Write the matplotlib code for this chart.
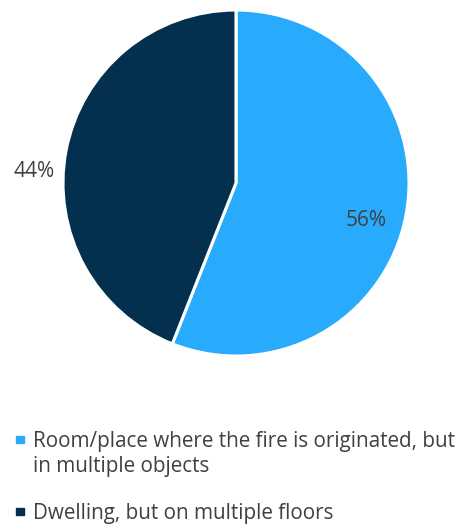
import matplotlib.pyplot as plt
from matplotlib.patches import Rectangle

labels = ['Room/place where the fire is originated, but\nin multiple objects',
          'Dwelling, but on multiple floors']
shares = [56, 44]
colors = ['#29abfd', '#03304f']
pct_pos = [(0.75, -0.215), (-1.17, 0.064)]

plt.rcParams['font.family'] = ['Open Sans', 'DejaVu Sans']
txt_color = '#404040'
W, H = 475, 526

fig = plt.figure(figsize=(W / 100, H / 100), dpi=100)
ax = fig.add_axes([(236 - 173) / W, (343 - 173) / H, 346 / W, 346 / H])
wedges, _ = ax.pie(shares, colors=colors, startangle=90, counterclock=False,
                   wedgeprops=dict(edgecolor='white', linewidth=2.2))
ax.set_xlim(-1, 1)
ax.set_ylim(-1, 1)
ax.axis('off')

for (x, y), v in zip(pct_pos, shares):
    ax.text(x, y, f'{v}%', ha='center', va='center', fontsize=15, color=txt_color)

# legend drawn by hand so the marker sits on the first line
baselines = [447, 519]
for base, lab, c in zip(baselines, labels, colors):
    fig.patches.append(Rectangle((16 / W, 1 - (base - 4) / H), 7.5 / W, 7.5 / H,
                                 transform=fig.transFigure, color=c))
    for i, line in enumerate(lab.split('\n')):
        fig.text(33 / W, 1 - (base + 25 * i) / H, line, ha='left', va='baseline',
                 fontsize=14.9, color=txt_color)

fig.savefig('out.png')
